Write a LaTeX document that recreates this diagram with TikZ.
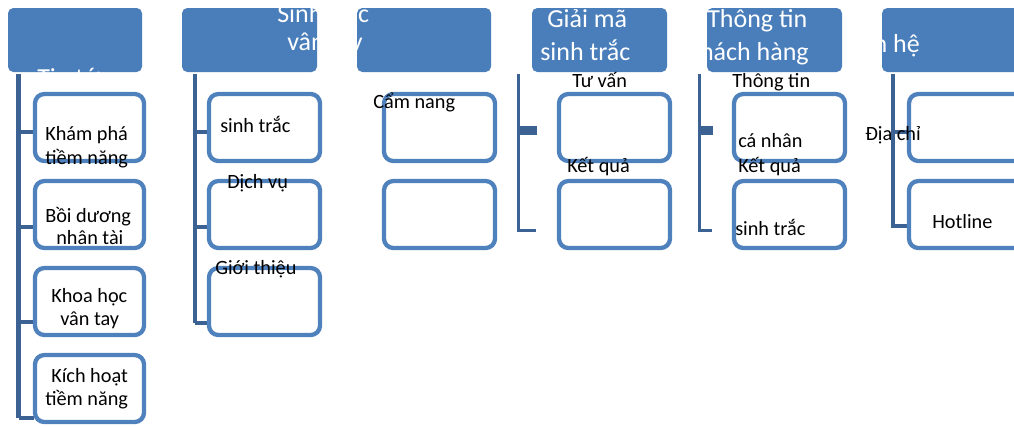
\documentclass[tikz,border=0pt]{standalone}
\usepackage{fontspec}
\setmainfont{Carlito}
\definecolor{hdr}{RGB}{74,126,187}
\definecolor{bdr}{RGB}{79,129,189}
\definecolor{con}{RGB}{60,98,148}
\begin{document}
\begin{tikzpicture}[x=0.75pt,y=-0.75pt,
 hdrbox/.style={fill=hdr, rounded corners=4pt},
 childbox/.style={draw=bdr, line width=3.2pt, fill=white, rounded corners=7pt},
 conn/.style={draw=con, line width=3pt},
 thinconn/.style={draw=con, line width=2.25pt},
 thickconn/.style={draw=con, line width=6.75pt},
 htxt/.style={text=white, font=\fontsize{19.5}{23}\selectfont, inner sep=0pt, anchor=base west},
 ctxt/.style={text=black, font=\fontsize{15.2}{18}\selectfont, inner sep=0pt, anchor=base west}]
\useasboundingbox (0,0) rectangle (1014,426);
\fill[white] (0,0) rectangle (1014,426);
% headers
\fill[hdrbox] (8,8) rectangle (142,72);
\fill[hdrbox] (182,8) rectangle (317,72);
\fill[hdrbox] (357,8) rectangle (491,72);
\fill[hdrbox] (532,8) rectangle (667,72);
\fill[hdrbox] (707,8) rectangle (842,72);
\fill[hdrbox] (882,8) rectangle (1024,72);
% connectors
\coordinate (a0) at (18.5,74); \coordinate (a4) at (18.5,418);
\draw[conn, line width=3.75pt] (a0) -- (a4);
\foreach \yy in {132,227,322,418} \draw[conn] (18.5,\yy) -- (34,\yy);
\coordinate (b0) at (195,74); \coordinate (b3) at (195,323);
\draw[conn] (b0) -- (b3);
\foreach \yy in {132,227,323} \draw[conn] (195,\yy) -- (209,\yy);
\coordinate (d0) at (518,74); \coordinate (d2) at (518,230.5);
\draw[thinconn] (d0) -- (d2);
\draw[thickconn] (518,130.5) -- (537,130.5);
\draw[thinconn] (517,230) -- (536,230);
\coordinate (e0) at (699,74); \coordinate (e2) at (699,230.5);
\draw[thinconn] (e0) -- (e2);
\draw[thickconn] (699,130.5) -- (713,130.5);
\draw[thinconn] (698,230) -- (712,230);
\coordinate (f0) at (893,74); \coordinate (f2) at (893,227.5);
\draw[conn] (f0) -- (f2);
\foreach \yy in {132,226} \draw[conn] (893,\yy) -- (908,\yy);
% child boxes
\foreach \yy in {94,181,268,355} \draw[childbox] (35,\yy) rectangle (144,\yy+67);
\foreach \yy in {94,181,268} \draw[childbox] (209,\yy) rectangle (320,\yy+67);
\foreach \xx in {384,559,734} {
  \foreach \yy in {94,181} \draw[childbox] (\xx,\yy) rectangle (\xx+111,\yy+67);
}
\foreach \yy in {94,181} \draw[childbox] (909,\yy) rectangle (1030,\yy+67);
% header texts
\node[htxt] (t1) at (37,86) {Tin tức};
\node[htxt] (t2a) at (277,22) {Sinh trắc};
\node[htxt] (t2b) at (287,50) {vân tay};
\node[htxt] (t4a) at (547,27) {Giải mã};
\node[htxt] (t4b) at (540,60) {sinh trắc};
\node[htxt] (t5a) at (707,27) {Thông tin};
\node[htxt, anchor=base east] (t5b) at (809,60) {khách hàng};
\node[htxt] (t6) at (843.5,52) {Liên hệ};
% child texts
\node[ctxt] (c11a) at (45,140) {Khám phá};
\node[ctxt] (c11b) at (45,164) {tiềm năng};
\node[ctxt] (c12a) at (45,222) {Bồi dương};
\node[ctxt] (c12b) at (56,244) {nhân tài};
\node[ctxt] (c13a) at (51,302) {Khoa học};
\node[ctxt] (c13b) at (60,325) {vân tay};
\node[ctxt] (c14a) at (51,382) {Kích hoạt};
\node[ctxt] (c14b) at (45,405) {tiềm năng};
\node[ctxt] (c21) at (220,132) {sinh trắc};
\node[ctxt] (c22) at (227,188) {Dịch vụ};
\node[ctxt] (c23) at (215,274) {Giới thiệu};
\node[ctxt] (c31) at (373,108) {Cẩm nang};
\node[ctxt] (c41) at (572,87) {Tư vấn};
\node[ctxt] (c42) at (567,172) {Kết quả};
\node[ctxt] (c51a) at (732,87) {Thông tin};
\node[ctxt] (c51b) at (738,147) {cá nhân};
\node[ctxt] (c52a) at (738,172) {Kết quả};
\node[ctxt] (c52b) at (735,235) {sinh trắc};
\node[ctxt] (c61) at (865,140) {Địa chỉ};
\node[ctxt] (c62) at (932,228) {Hotline};
\end{tikzpicture}
\end{document}
